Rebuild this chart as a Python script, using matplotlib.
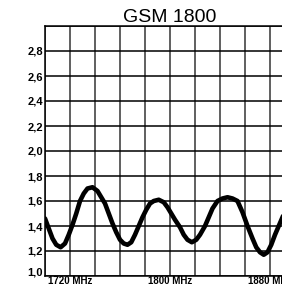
import matplotlib
matplotlib.use("Agg")
import matplotlib.pyplot as plt
import matplotlib.transforms as mtransforms

# Datos (frecuencia en MHz, ROE)
freq = [1700, 1703, 1706, 1709, 1712.5, 1716, 1719, 1722, 1725, 1728,
        1731, 1734, 1738, 1742, 1745, 1748, 1751, 1754, 1757, 1760,
        1763, 1766, 1769, 1772, 1775, 1778, 1781, 1784, 1787, 1791,
        1795, 1798, 1801, 1804, 1808, 1811, 1814, 1817.5, 1821, 1824,
        1828, 1831, 1834, 1838, 1842, 1846, 1850, 1854, 1858, 1862,
        1866, 1869, 1872, 1875, 1878, 1881, 1884, 1887, 1890, 1893]
vswr = [1.46, 1.38, 1.30, 1.25, 1.23, 1.26, 1.33, 1.41, 1.50, 1.60,
        1.66, 1.70, 1.71, 1.68, 1.63, 1.58, 1.50, 1.42, 1.35, 1.29,
        1.26, 1.25, 1.27, 1.33, 1.40, 1.47, 1.53, 1.58, 1.60, 1.61,
        1.59, 1.55, 1.50, 1.45, 1.39, 1.33, 1.29, 1.27, 1.29, 1.33,
        1.40, 1.47, 1.54, 1.60, 1.62, 1.63, 1.62, 1.60, 1.51, 1.40,
        1.30, 1.23, 1.19, 1.17, 1.19, 1.25, 1.33, 1.40, 1.47, 1.54]

x_grid = [1700, 1720, 1740, 1760, 1780, 1800, 1820, 1840, 1860, 1880, 1900]
x_labels = {1720: "1720 MHz", 1800: "1800 MHz", 1880: "1880 MHz"}
y_grid = [1.0, 1.2, 1.4, 1.6, 1.8, 2.0, 2.2, 2.4, 2.6, 2.8, 3.0]
y_labels = ["1,0", "1,2", "1,4", "1,6", "1,8", "2,0", "2,2", "2,4", "2,6", "2,8", ""]

plt.rcParams["font.family"] = ["Liberation Sans", "DejaVu Sans"]

fig = plt.figure(figsize=(2.82, 2.89), dpi=100)
ax = fig.add_axes([45 / 282, 13 / 289, 250 / 282, 250 / 289])  # el eje sigue fuera de la imagen

ax.set_xlim(1700, 1900)
ax.set_ylim(1.0, 3.0)

# Rejilla
for xv in x_grid:
    ax.axvline(xv, color="#444444", lw=1.2, zorder=1)
for yv in y_grid:
    ax.axhline(yv, color="black", lw=1.1, zorder=1)

ax.plot(freq, vswr, color="black", lw=3.3, solid_capstyle="round",
        solid_joinstyle="round", zorder=3)

ax.set_xticks(x_grid)
ax.set_xticklabels([x_labels.get(v, "") for v in x_grid], fontsize=7, fontweight="bold")
ax.set_yticks(y_grid)
ax.set_yticklabels(y_labels, fontsize=8, fontweight="bold")
ax.tick_params(axis="x", length=0, pad=0)
ax.tick_params(axis="y", length=0, pad=1.5)

# "1,0" un poco mas arriba
lab = ax.get_yticklabels()[0]
lab.set_transform(lab.get_transform() + mtransforms.ScaledTranslation(0, 3 / 72, fig.dpi_scale_trans))

for s in ax.spines.values():
    s.set_color("black")
    s.set_linewidth(1.1)

ax.set_title("GSM 1800", fontsize=14, pad=2)

fig.savefig("out.png", dpi=100)
